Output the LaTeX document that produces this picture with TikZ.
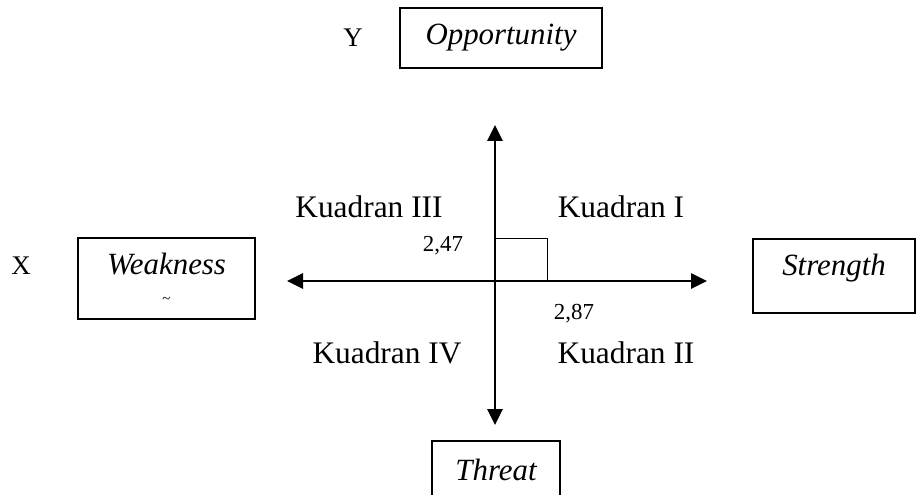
\documentclass[tikz,border=0pt]{standalone}
\usepackage{fontspec}
\setmainfont{Liberation Serif}
\usetikzlibrary{arrows.meta,positioning}
\tikzset{
  block/.style={rectangle, draw=black, line width=1.2bp, inner sep=0pt, align=center,
                font=\fontsize{31}{36}\selectfont\itshape},
  axis/.style={{Triangle[length=16bp,width=15bp]}-{Triangle[length=16bp,width=15bp]}, line width=2.7bp},
  label/.style={inner sep=0pt, anchor=base, font=\fontsize{31.5}{36}\selectfont},
  axlabel/.style={label, font=\fontsize{27}{30}\selectfont},
  value/.style={label, font=\fontsize{23}{27}\selectfont},
}

\begin{document}
\begin{tikzpicture}[x=1bp, y=-1bp]
\fill[white] (0,0) rectangle (919,495);
\useasboundingbox (0,0) rectangle (919,495);
\clip (0,0) rectangle (919,495);

% axes
\coordinate (o) at (495,281);
\coordinate (xl) at (287,281);
\coordinate (xr) at (707,281);
\coordinate (yt) at (495,125);
\coordinate (yb) at (495,425);
\coordinate (sq) at (547,239);
\draw[axis] (xl) -- (xr);
\draw[axis] (yt) -- (yb);
\draw[line width=1bp] (o) rectangle (sq);

% boxes
\node[block, minimum width=202bp, minimum height=60bp] (opp) at (501,38) {Opportunity};
\node[block, minimum width=177bp, minimum height=81bp] (weak) at (166.5,278.5)
  {Weakness\\[-7bp]{\fontsize{15}{15}\selectfont\upshape\textasciitilde}};
\node[block, minimum width=162bp, minimum height=74bp, text depth=23bp] (str) at (834,276) {Strength};
\node[block, minimum width=128bp, minimum height=58bp] (thr) at (496,470) {Threat};

% labels
\node[axlabel] (ylab) at (353,47) {Y};
\node[axlabel] (xlab) at (21,275) {X};
\node[label] (k3) at (369,218) {Kuadran III};
\node[label] (k1) at (621,218) {Kuadran I};
\node[label] (k4) at (387,364) {Kuadran IV};
\node[label] (k2) at (626,364) {Kuadran II};
\node[value] (vy) at (443,252) {2,47};
\node[value] (vx) at (574,320) {2,87};
\end{tikzpicture}
\end{document}
